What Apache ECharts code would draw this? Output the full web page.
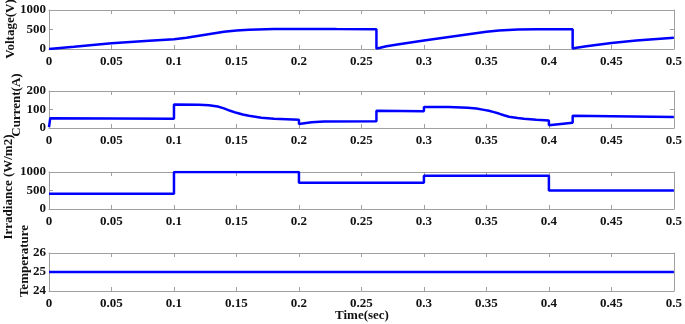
<!DOCTYPE html>
<html>
<head>
<meta charset="utf-8">
<script src="https://cdn.jsdelivr.net/npm/echarts@6/dist/echarts.min.js"></script>
<style>html,body{margin:0;padding:0;background:#fff;}#c{width:685px;height:324px;}</style>
</head>
<body>
<div id="c"></div>
<script>
// ---- data ----
var xTicks = [0, 0.05, 0.1, 0.15, 0.2, 0.25, 0.3, 0.35, 0.4, 0.45, 0.5];
var voltageT = [0, 0.02, 0.05, 0.08, 0.1, 0.11, 0.12, 0.13, 0.14, 0.15, 0.16, 0.18, 0.2, 0.23, 0.262, 0.262, 0.265, 0.27, 0.28, 0.3, 0.32, 0.34, 0.35, 0.36, 0.375, 0.39, 0.419, 0.419, 0.422, 0.43, 0.45, 0.47, 0.5];
var voltageV = [0, 55, 145, 210, 250, 290, 340, 390, 440, 475, 495, 510, 513, 510, 508, 15, 30, 70, 120, 220, 310, 400, 440, 475, 500, 507, 505, 12, 30, 70, 155, 215, 290];
var currentT = [0, 0.001, 0.05, 0.1, 0.1, 0.12, 0.128, 0.135, 0.14, 0.145, 0.15, 0.155, 0.16, 0.17, 0.18, 0.2, 0.2, 0.21, 0.22, 0.262, 0.262, 0.3, 0.3, 0.32, 0.335, 0.342, 0.348, 0.352, 0.356, 0.36, 0.364, 0.368, 0.375, 0.38, 0.39, 0.4, 0.4, 0.419, 0.419, 0.45, 0.5];
var currentV = [5, 53, 52, 50, 127, 126, 123, 116, 106, 93, 82, 73, 66, 56, 50, 44, 22, 31, 35, 37, 93, 90, 114, 113, 110, 105, 98, 93, 86, 78, 69, 61, 54, 50, 44, 40, 15, 28, 66, 64, 60];
var irrT = [0, 0.1, 0.1, 0.2, 0.2, 0.3, 0.3, 0.4, 0.4, 0.5];
var irrV = [410, 410, 1000, 1000, 710, 710, 900, 900, 500, 500];
var tempT = [0, 0.5];
var tempV = [25, 25];

var yNames = ['Voltage(V)', 'Current(A)', 'Irradiance (W/m2)', 'Temperature'];
var yMin = [0, 0, 0, 24];
var yMax = [1000, 200, 1000, 26];
var yInt = [500, 100, 500, 1];

function pairs(t, v) { return t.map(function (x, i) { return [x, v[i]]; }); }
var seriesData = [pairs(voltageT, voltageV), pairs(currentT, currentV), pairs(irrT, irrV), pairs(tempT, tempV)];

var font = '"Liberation Serif", "Times New Roman", serif';
var gridTops = [10, 91, 172, 253];
var gridHeights = [39, 37, 37, 38];
var grids = [], xAxes = [], yAxes = [], series = [];
var lineC = '#a0a0a0';
for (var i = 0; i < 4; i++) {
  grids.push({ left: 49, right: 9, top: gridTops[i], height: gridHeights[i], show: false });
  var xBase = { type: 'value', gridIndex: i, min: 0, max: 0.5, interval: 0.05,
    axisLine: { show: true, onZero: false, lineStyle: { color: lineC, width: 1 } },
    axisTick: { show: true, inside: true, length: 4, lineStyle: { color: lineC } },
    splitLine: { show: false } };
  xAxes.push(Object.assign({}, xBase, { position: 'bottom',
    axisLabel: { show: true, margin: 6, color: '#111', fontFamily: font, fontWeight: 'bold', fontSize: 13,
      formatter: function (v) { return String(+v.toFixed(2)); } } }));
  xAxes.push(Object.assign({}, xBase, { position: 'top', axisLabel: { show: false } }));
  var yBase = { type: 'value', gridIndex: i, min: yMin[i], max: yMax[i], interval: yInt[i],
    axisLine: { show: true, onZero: false, lineStyle: { color: lineC, width: 1 } },
    axisTick: { show: true, inside: true, length: 4, lineStyle: { color: lineC } },
    splitLine: { show: false } };
  yAxes.push(Object.assign({}, yBase, { position: 'left',
    axisLabel: { show: true, margin: 3, color: '#111', fontFamily: font, fontWeight: 'bold', fontSize: 13,
      formatter: function (v) { return String(v); } } }));
  yAxes.push(Object.assign({}, yBase, { position: 'right', axisLabel: { show: false } }));
  series.push({ type: 'line', xAxisIndex: 2 * i, yAxisIndex: 2 * i, data: seriesData[i],
    showSymbol: false, symbol: 'none', animation: false,
    lineStyle: { color: '#0000ff', width: 2.5 } });
}

var namePos = [[11, 29], [17, 105], [9, 187], [25, 261]];
var graphics = yNames.map(function (n, i) {
  return { type: 'text', x: namePos[i][0], y: namePos[i][1], rotation: Math.PI / 2,
    style: { text: n, fill: '#111', font: 'bold 13px ' + font, textAlign: 'center', textVerticalAlign: 'middle' } };
});
graphics.push({ type: 'text', x: 362, y: 316,
  style: { text: 'Time(sec)', fill: '#111', font: 'bold 13px ' + font, textAlign: 'center', textVerticalAlign: 'middle' } });

var chart = echarts.init(document.getElementById('c'), null, { renderer: 'canvas' });
chart.setOption({
  animation: false,
  backgroundColor: '#fff',
  grid: grids,
  xAxis: xAxes,
  yAxis: yAxes,
  series: series,
  graphic: graphics
});
</script>
</body>
</html>
